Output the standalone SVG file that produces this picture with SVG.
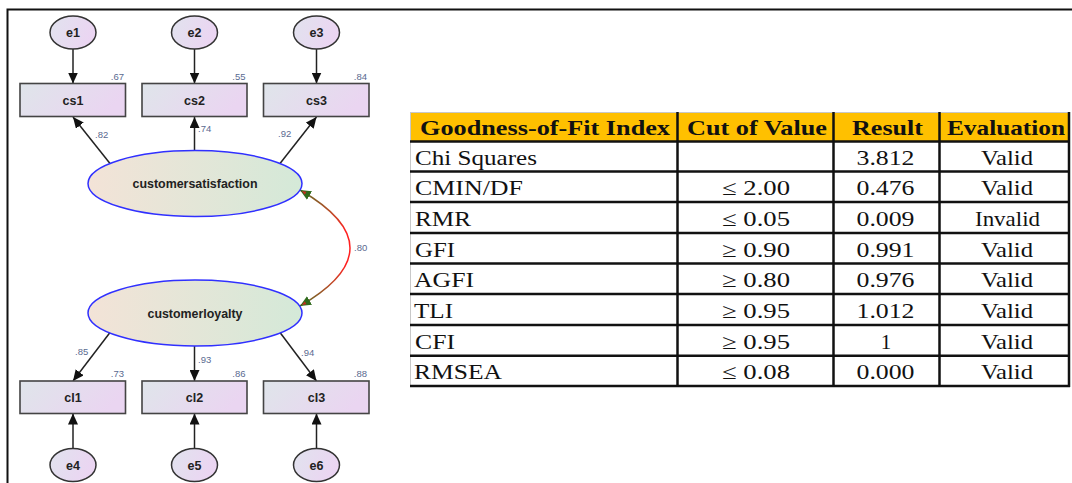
<svg xmlns="http://www.w3.org/2000/svg" width="1072" height="483" viewBox="0 0 1072 483">
<defs>
  <linearGradient id="errGrad" x1="0" y1="0" x2="1" y2="0.3">
    <stop offset="0" stop-color="#e1e3ee"/>
    <stop offset="1" stop-color="#ebd5f2"/>
  </linearGradient>
  <linearGradient id="rectGrad" x1="0" y1="0" x2="1" y2="0.3">
    <stop offset="0" stop-color="#dfe5ea"/>
    <stop offset="1" stop-color="#ead5f1"/>
  </linearGradient>
  <linearGradient id="latGrad" x1="0" y1="0" x2="1" y2="0">
    <stop offset="0" stop-color="#f3e3d7"/>
    <stop offset="1" stop-color="#d4e9d8"/>
  </linearGradient>
  <linearGradient id="covGrad" gradientUnits="userSpaceOnUse" x1="0" y1="190" x2="0" y2="306">
    <stop offset="0" stop-color="#5f6a25"/>
    <stop offset="0.2" stop-color="#c04a28"/>
    <stop offset="0.35" stop-color="#ff2020"/>
    <stop offset="0.65" stop-color="#ff2020"/>
    <stop offset="0.8" stop-color="#c04a28"/>
    <stop offset="1" stop-color="#5f6a25"/>
  </linearGradient>
  <marker id="arr" markerUnits="userSpaceOnUse" viewBox="0 0 11 10" refX="11" refY="5" markerWidth="11" markerHeight="10" orient="auto">
    <path d="M0,0 L11,5 L0,10 z" fill="#111"/>
  </marker>
  <marker id="covArr" markerUnits="userSpaceOnUse" viewBox="0 0 11 10" refX="11" refY="5" markerWidth="11" markerHeight="10" orient="auto-start-reverse">
    <path d="M0,0 L11,5 L0,10 z" fill="#2f6a1c"/>
    <path d="M4.5,3.3 L9,5 L4.5,6.7 z" fill="#c03020"/>
  </marker>
  <style>
    .err{fill:url(#errGrad);stroke:#333;stroke-width:1.5}
    .obs{fill:url(#rectGrad);stroke:#444;stroke-width:1.6}
    .lat{fill:url(#latGrad);stroke:#3030ff;stroke-width:1.5}
    .lbl{font-family:"Liberation Sans",Arial,sans-serif;font-weight:bold;font-size:12.5px;fill:#222;text-anchor:middle}
    .num{font-family:"Liberation Sans",Arial,sans-serif;font-size:9.5px;fill:#5a6a90}
    .edge{stroke:#222;stroke-width:1.5;fill:none;marker-end:url(#arr)}
    .hd{font-family:"Liberation Serif","Times New Roman",serif;font-weight:bold;font-size:21px;fill:#111}
    .td{font-family:"Liberation Serif","Times New Roman",serif;font-size:21px;fill:#111}
    .c{text-anchor:middle}
    .hl{stroke:#111;stroke-width:2.5}
    .vl{stroke:#111;stroke-width:2.5}
  </style>
</defs>
<rect x="0" y="0" width="1072" height="483" fill="#ffffff"/>
<!-- outer frame -->
<path d="M7.5,483 L7.5,9.5 L1072,9.5" fill="none" stroke="#111" stroke-width="2"/>

<g id="connectors">
  <line class="edge" x1="73" y1="49" x2="73" y2="83.5"/>
  <line class="edge" x1="194.5" y1="49" x2="194.5" y2="83.5"/>
  <line class="edge" x1="316.5" y1="49" x2="316.5" y2="83.5"/>
  <line class="edge" x1="110" y1="163.5" x2="73" y2="117"/>
  <line class="edge" x1="194.5" y1="150.5" x2="194.5" y2="117"/>
  <line class="edge" x1="280" y1="163.5" x2="316.5" y2="117"/>
  <line class="edge" x1="110" y1="332.5" x2="73" y2="381"/>
  <line class="edge" x1="194.5" y1="346" x2="194.5" y2="381"/>
  <line class="edge" x1="280" y1="332.5" x2="316.5" y2="381"/>
  <line class="edge" x1="73" y1="448.5" x2="73" y2="413.5"/>
  <line class="edge" x1="194.5" y1="448.5" x2="194.5" y2="413.5"/>
  <line class="edge" x1="316.5" y1="448.5" x2="316.5" y2="413.5"/>
  <path d="M300,190 Q400,248 300,306" fill="none" stroke="url(#covGrad)" stroke-width="1.5" marker-start="url(#covArr)" marker-end="url(#covArr)"/>
  <text class="num" x="95" y="138">.82</text>
  <text class="num" x="198" y="132">.74</text>
  <text class="num" x="278" y="137">.92</text>
  <text class="num" x="75" y="355">.85</text>
  <text class="num" x="198" y="362.5">.93</text>
  <text class="num" x="301" y="355.5">.94</text>
  <text class="num" x="354" y="251">.80</text>
</g>

<g id="e1"><ellipse class="err" cx="73" cy="32.5" rx="23" ry="16.5"/><text class="lbl" x="73" y="37">e1</text></g>
<g id="e2"><ellipse class="err" cx="194.5" cy="32.5" rx="23" ry="16.5"/><text class="lbl" x="194.5" y="37">e2</text></g>
<g id="e3"><ellipse class="err" cx="316.5" cy="32.5" rx="23" ry="16.5"/><text class="lbl" x="316.5" y="37">e3</text></g>

<g id="cs1"><rect class="obs" x="20" y="83.5" width="105.5" height="33"/><text class="lbl" x="73" y="104.5">cs1</text><text class="num" x="124" y="80" text-anchor="end">.67</text></g>
<g id="cs2"><rect class="obs" x="142" y="83.5" width="105" height="33"/><text class="lbl" x="194.5" y="104.5">cs2</text><text class="num" x="245.5" y="80" text-anchor="end">.55</text></g>
<g id="cs3"><rect class="obs" x="263.5" y="83.5" width="105.5" height="33"/><text class="lbl" x="316.5" y="104.5">cs3</text><text class="num" x="367" y="80" text-anchor="end">.84</text></g>

<g id="customersatisfaction"><ellipse class="lat" cx="195" cy="183.5" rx="107" ry="33"/><text class="lbl" x="195" y="188" font-size="12px" textLength="125" lengthAdjust="spacingAndGlyphs">customersatisfaction</text></g>
<g id="customerloyalty"><ellipse class="lat" cx="195" cy="313" rx="107" ry="33"/><text class="lbl" x="195" y="317.5" font-size="12px" textLength="95" lengthAdjust="spacingAndGlyphs">customerloyalty</text></g>

<g id="cl1"><rect class="obs" x="20" y="381" width="105.5" height="32.5"/><text class="lbl" x="73" y="401.5">cl1</text><text class="num" x="124" y="377" text-anchor="end">.73</text></g>
<g id="cl2"><rect class="obs" x="142" y="381" width="105" height="32.5"/><text class="lbl" x="194.5" y="401.5">cl2</text><text class="num" x="245.5" y="377" text-anchor="end">.86</text></g>
<g id="cl3"><rect class="obs" x="263.5" y="381" width="105.5" height="32.5"/><text class="lbl" x="316.5" y="401.5">cl3</text><text class="num" x="367" y="377" text-anchor="end">.88</text></g>

<g id="e4"><ellipse class="err" cx="73" cy="465" rx="23" ry="16.5"/><text class="lbl" x="73" y="469.5">e4</text></g>
<g id="e5"><ellipse class="err" cx="194.5" cy="465" rx="23" ry="16.5"/><text class="lbl" x="194.5" y="469.5">e5</text></g>
<g id="e6"><ellipse class="err" cx="316.5" cy="465" rx="23" ry="16.5"/><text class="lbl" x="316.5" y="469.5">e6</text></g>

<g id="fit-table">
  <rect x="410" y="112" width="659" height="29.5" fill="#ffc000"/>
  <line x1="410.5" y1="112" x2="410.5" y2="387" stroke="#c8c8c8" stroke-width="1"/>
  <line x1="410" y1="112.5" x2="1069" y2="112.5" stroke="#c8c8c8" stroke-width="1"/>
  <g class="hl">
    <line x1="410" y1="141.5" x2="1070" y2="141.5"/>
    <line x1="410" y1="171.5" x2="1070" y2="171.5"/>
    <line x1="410" y1="202" x2="1070" y2="202"/>
    <line x1="410" y1="233" x2="1070" y2="233"/>
    <line x1="410" y1="263.5" x2="1070" y2="263.5"/>
    <line x1="410" y1="294" x2="1070" y2="294"/>
    <line x1="410" y1="325" x2="1070" y2="325"/>
    <line x1="410" y1="355.7" x2="1070" y2="355.7"/>
    <line x1="410" y1="386" x2="1070" y2="386"/>
  </g>
  <g class="vl">
    <line x1="677.5" y1="112" x2="677.5" y2="387"/>
    <line x1="833.5" y1="112" x2="833.5" y2="387"/>
    <line x1="939.5" y1="112" x2="939.5" y2="387"/>
    <line x1="1069" y1="112" x2="1069" y2="387"/>
  </g>
  <text class="hd" x="420" y="135" textLength="250" lengthAdjust="spacingAndGlyphs">Goodness-of-Fit Index</text>
  <text class="hd" x="687" y="135" textLength="140" lengthAdjust="spacingAndGlyphs">Cut of Value</text>
  <text class="hd" x="852" y="135" textLength="71" lengthAdjust="spacingAndGlyphs">Result</text>
  <text class="hd" x="947" y="135" textLength="118" lengthAdjust="spacingAndGlyphs">Evaluation</text>

  <text class="td" x="415" y="165" textLength="122" lengthAdjust="spacingAndGlyphs">Chi Squares</text>
  <text class="td" x="415" y="195" textLength="108" lengthAdjust="spacingAndGlyphs">CMIN/DF</text>
  <text class="td" x="415" y="225.5" textLength="56" lengthAdjust="spacingAndGlyphs">RMR</text>
  <text class="td" x="415" y="256.5" textLength="40" lengthAdjust="spacingAndGlyphs">GFI</text>
  <text class="td" x="414" y="287" textLength="60" lengthAdjust="spacingAndGlyphs">AGFI</text>
  <text class="td" x="414" y="317.5" textLength="39" lengthAdjust="spacingAndGlyphs">TLI</text>
  <text class="td" x="415" y="348.5" textLength="40" lengthAdjust="spacingAndGlyphs">CFI</text>
  <text class="td" x="414" y="379" textLength="88" lengthAdjust="spacingAndGlyphs">RMSEA</text>

  <text class="td" x="722" y="195" textLength="68" lengthAdjust="spacingAndGlyphs">≤ 2.00</text>
  <text class="td" x="722" y="225.5" textLength="68" lengthAdjust="spacingAndGlyphs">≤ 0.05</text>
  <text class="td" x="722" y="256.5" textLength="68" lengthAdjust="spacingAndGlyphs">≥ 0.90</text>
  <text class="td" x="722" y="287" textLength="68" lengthAdjust="spacingAndGlyphs">≥ 0.80</text>
  <text class="td" x="722" y="317.5" textLength="68" lengthAdjust="spacingAndGlyphs">≥ 0.95</text>
  <text class="td" x="722" y="348.5" textLength="68" lengthAdjust="spacingAndGlyphs">≥ 0.95</text>
  <text class="td" x="722" y="379" textLength="68" lengthAdjust="spacingAndGlyphs">≤ 0.08</text>

  <text class="td" x="856.5" y="165" textLength="58" lengthAdjust="spacingAndGlyphs">3.812</text>
  <text class="td" x="856.5" y="195" textLength="58" lengthAdjust="spacingAndGlyphs">0.476</text>
  <text class="td" x="856.5" y="225.5" textLength="58" lengthAdjust="spacingAndGlyphs">0.009</text>
  <text class="td" x="856.5" y="256.5" textLength="58" lengthAdjust="spacingAndGlyphs">0.991</text>
  <text class="td" x="856.5" y="287" textLength="58" lengthAdjust="spacingAndGlyphs">0.976</text>
  <text class="td" x="856.5" y="317.5" textLength="58" lengthAdjust="spacingAndGlyphs">1.012</text>
  <text class="td c" x="886" y="348.5">1</text>
  <text class="td" x="856.5" y="379" textLength="58" lengthAdjust="spacingAndGlyphs">0.000</text>

  <text class="td" x="981" y="165" textLength="52" lengthAdjust="spacingAndGlyphs">Valid</text>
  <text class="td" x="981" y="195" textLength="52" lengthAdjust="spacingAndGlyphs">Valid</text>
  <text class="td" x="975" y="225.5" textLength="65" lengthAdjust="spacingAndGlyphs">Invalid</text>
  <text class="td" x="981" y="256.5" textLength="52" lengthAdjust="spacingAndGlyphs">Valid</text>
  <text class="td" x="981" y="287" textLength="52" lengthAdjust="spacingAndGlyphs">Valid</text>
  <text class="td" x="981" y="317.5" textLength="52" lengthAdjust="spacingAndGlyphs">Valid</text>
  <text class="td" x="981" y="348.5" textLength="52" lengthAdjust="spacingAndGlyphs">Valid</text>
  <text class="td" x="981" y="379" textLength="52" lengthAdjust="spacingAndGlyphs">Valid</text>
</g>
</svg>
